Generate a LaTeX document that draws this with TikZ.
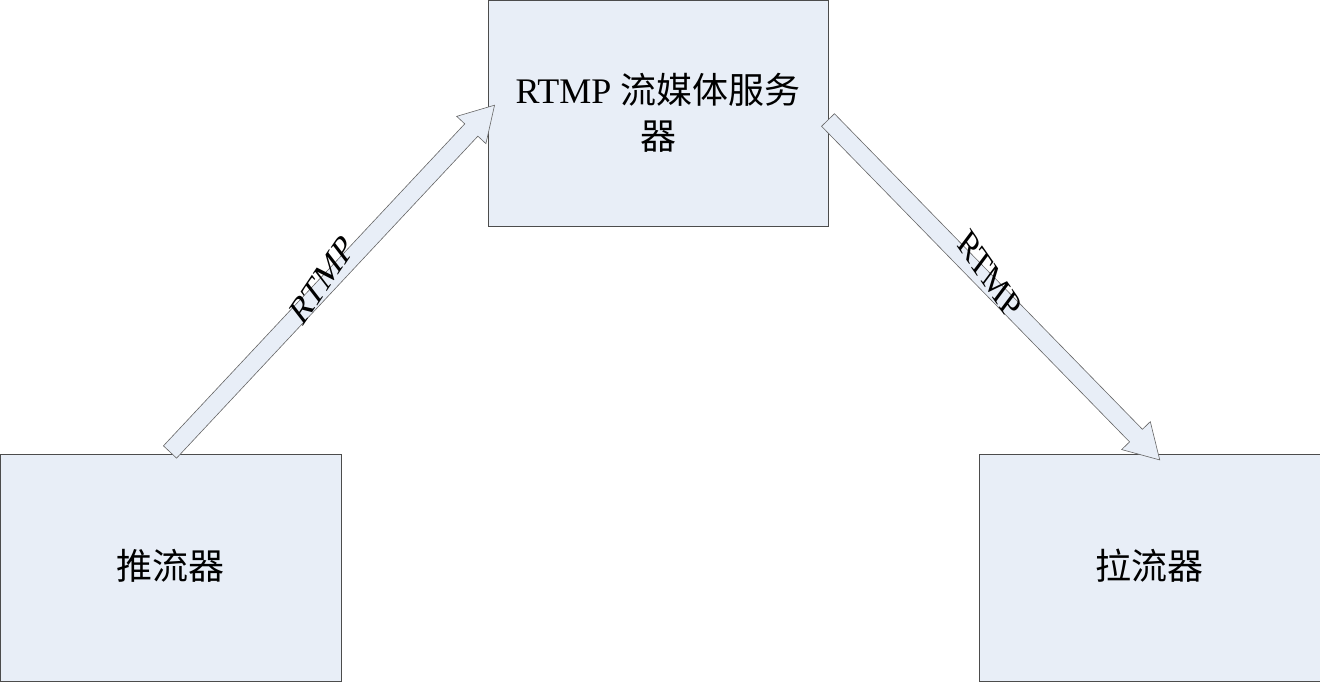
\documentclass[tikz,border=0pt]{standalone}
\usepackage{fontspec}
\setmainfont{Liberation Serif}
\newfontfamily\cjk{Noto Sans CJK SC}
\definecolor{boxfill}{HTML}{E8EEF7}
\begin{document}
\begin{tikzpicture}[x=1pt,y=1pt,
  box/.style={draw=black!70,fill=boxfill,line width=0.6pt,inner sep=0pt},
  arr/.style={draw=black!60,fill=boxfill,line width=0.6pt},
  lbl/.style={font=\fontsize{36}{46}\selectfont},
  alb/.style={font=\fontsize{40}{44}\selectfont,xscale=0.72}]
\useasboundingbox (0,0) rectangle (1320,681);
\node[box,minimum width=340pt,minimum height=226pt] (srv) at (658,568) {};
\node[box,minimum width=341pt,minimum height=227pt] (push) at (170.5,113.5) {};
\node[box,minimum width=341pt,minimum height=227pt] (pull) at (1149.5,113.5) {};
\node[align=center,lbl] (st) at (658,568) {RTMP {\cjk 流媒体服务}\\{\cjk 器}};
\node[lbl] (pt) at (170.5,115) {\cjk 推流器};
\node[lbl] (lt) at (1149.5,115) {\cjk 拉流器};
\draw[arr,shift={(170,229)},rotate=46.9] (0,-9)--(441,-9)--(441,-20)--(475,0)--(441,20)--(441,9)--(0,9)--cycle;
\draw[arr,shift={(828,561)},rotate=-45.7] (0,-9)--(441,-9)--(441,-20)--(475,0)--(441,20)--(441,9)--(0,9)--cycle;
\node[alb,rotate=46.9] (l1) at (322,401) {RTMP};
\node[alb,rotate=-46] (l2) at (990,406) {RTMP};
\end{tikzpicture}
\end{document}
